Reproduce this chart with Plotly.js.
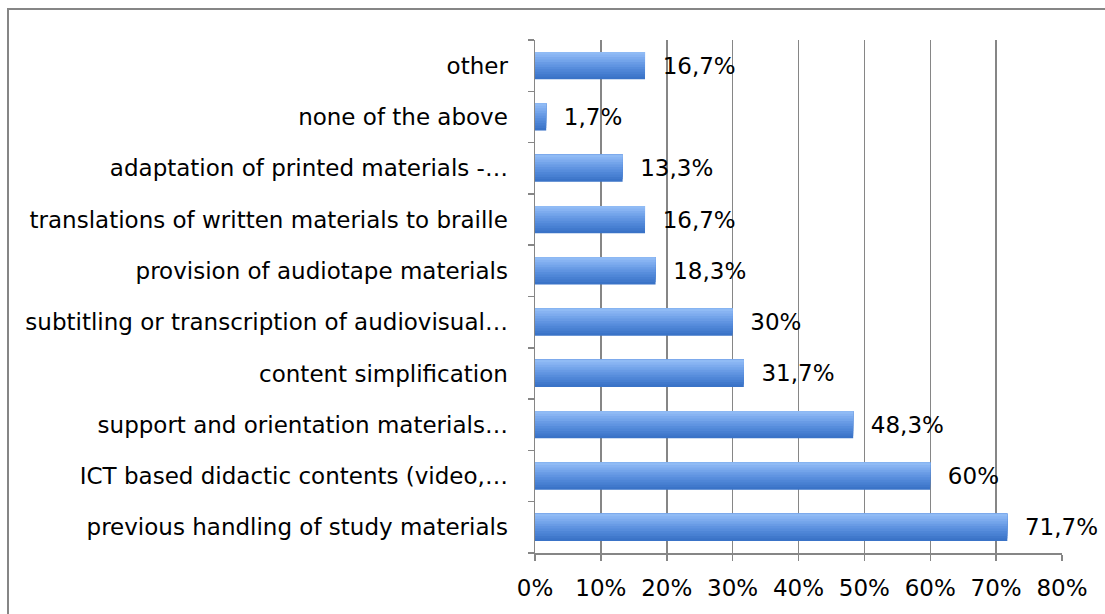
<!DOCTYPE html>
<html><head><meta charset="utf-8">
<script src="https://cdn.plot.ly/plotly-3.0.1.min.js"></script>
<style>html,body{margin:0;padding:0;background:#fff}#wrap{position:relative;width:1105px;height:614px;overflow:hidden}
#chart{width:1105px;height:614px}
#frame{position:absolute;left:7px;top:8px;width:1110px;height:620px;border:2px solid #868686;box-sizing:border-box;pointer-events:none}</style>
</head><body><div id="wrap"><div id="chart"></div><div id="frame"></div></div>
<script>
// bottom to top
const categories = [
  "previous handling of study materials",
  "ICT based didactic contents (video,…",
  "support and orientation materials…",
  "content simplification",
  "subtitling or transcription of audiovisual…",
  "provision of audiotape materials",
  "translations of written materials to braille",
  "adaptation of printed materials -…",
  "none of the above",
  "other"
];
const values = [71.7, 60, 48.3, 31.7, 30, 18.3, 16.7, 13.3, 1.7, 16.7];
const valueLabels = ["71,7%", "60%", "48,3%", "31,7%", "30%", "18,3%", "16,7%", "13,3%", "1,7%", "16,7%"];
const xTickVals = [0, 10, 20, 30, 40, 50, 60, 70, 80];
const xTickText = ["0%", "10%", "20%", "30%", "40%", "50%", "60%", "70%", "80%"];

const font = "DejaVu Sans, Verdana, sans-serif";
const fs = 23;
// gradient bands, bottom (dark) to top (light)
const bandColors = ["#3a73c7", "#4179cc", "#4880d2", "#4f86d7", "#578ddc", "#6094e1", "#699be5", "#73a4ea", "#7dabee", "#87b3f2", "#90bbf5"];
const barW = 0.53;
const traces = [];
const bw = barW / bandColors.length;
bandColors.forEach((c, i) => {
  // each band reaches from its own start to the top of the bar, so lighter bands cover darker ones without seams
  traces.push({
    type: "bar", orientation: "h",
    x: values, y: categories,
    width: barW - i * bw, offset: -barW / 2 + i * bw,
    marker: {color: c, line: {width: 0}},
    hoverinfo: "skip", showlegend: false
  });
});
traces.push({
  type: "bar", orientation: "h",
  x: values, y: categories,
  width: barW, offset: -barW / 2,
  marker: {color: "rgba(0,0,0,0)", line: {width: 0}},
  text: valueLabels, texttemplate: "\u00a0\u00a0%{text}",
  textposition: "outside", cliponaxis: false,
  textfont: {family: font, size: fs, color: "#000"},
  hoverinfo: "skip", showlegend: false
});

const layout = {
  width: 1105, height: 614,
  margin: {l: 535, r: 43, t: 40, b: 61},
  barmode: "overlay",
  paper_bgcolor: "#fff", plot_bgcolor: "#fff",
  font: {family: font, size: fs, color: "#000"},
  xaxis: {
    range: [0, 80], tickvals: xTickVals, ticktext: xTickText,
    showgrid: true, gridcolor: "#868686", gridwidth: 1.5,
    showline: true, linecolor: "#868686", linewidth: 1.5,
    ticks: "outside", ticklen: 6, tickcolor: "#868686", tickwidth: 1.5,
    ticklabelstandoff: 8,
    zeroline: false, fixedrange: true,
    tickfont: {family: font, size: fs, color: "#000"}
  },
  yaxis: {
    type: "category", categoryorder: "array", categoryarray: categories,
    showgrid: false, showline: true, linecolor: "#868686", linewidth: 1.5,
    ticks: "outside", ticklen: 6, tickcolor: "#868686", tickwidth: 1.5,
    tickson: "boundaries", ticklabelstandoff: 21,
    tickfont: {family: font, size: fs, color: "#000"}
  }
};
Plotly.newPlot("chart", traces, layout, {displayModeBar: false, staticPlot: true});
</script></body></html>
